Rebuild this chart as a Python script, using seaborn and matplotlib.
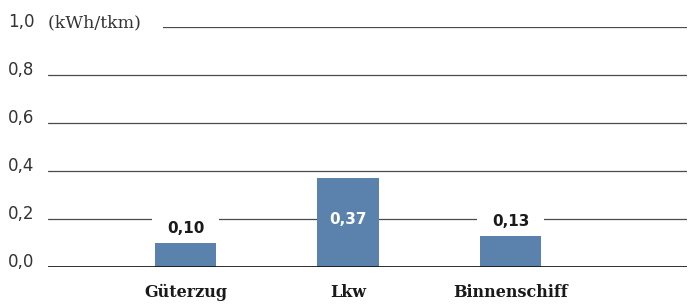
import numpy as np
import pandas as pd
import matplotlib
matplotlib.use("Agg")
import matplotlib.pyplot as plt
import seaborn as sns

# Energy use per tonne-kilometre by mode of freight transport
categories = ["Güterzug", "Lkw", "Binnenschiff"]
values = [0.10, 0.37, 0.13]
y_ticks = [0.0, 0.2, 0.4, 0.6, 0.8, 1.0]
unit_label = "(kWh/tkm)"

df = pd.DataFrame({"mode": categories, "kwh": values})

sns.set_theme(style="white")
plt.rcParams["font.family"] = ["DejaVu Sans"]

bar_color = "#5a82ad"
grid_color = "#4a4a4a"
text_color = "#1a1a1a"

fig = plt.figure(figsize=(6.97, 3.05), dpi=100)
ax = fig.add_axes([48 / 697, 38 / 305, 639 / 697, 240 / 305])

sns.barplot(data=df, x="mode", y="kwh", color=bar_color, width=0.377,
            saturation=1, ax=ax, zorder=2)
for p in ax.patches:
    p.set_zorder(2)
    p.set_edgecolor("none")

ax.set_xlim(-0.846, 3.086)
ax.set_ylim(0, 1.0)
ax.set_yticks(y_ticks)
ax.set_yticklabels([f"{t:.1f}".replace(".", ",") for t in y_ticks])
ax.set_axisbelow(True)
ax.yaxis.grid(True, color=grid_color, linewidth=0.9)
ax.xaxis.grid(False)
for s in ax.spines.values():
    s.set_visible(False)
ax.axhline(0, color="#111111", linewidth=1.2, zorder=2.2)

ax.tick_params(axis="y", length=0, pad=29, labelsize=12, labelcolor="#333333")
for lab in ax.get_yticklabels():
    lab.set_horizontalalignment("left")
    lab.set_verticalalignment("baseline")

ax.tick_params(axis="x", length=0, pad=12, labelsize=11.5, labelcolor=text_color)
for lab in ax.get_xticklabels():
    lab.set_family("DejaVu Serif")
    lab.set_fontweight("bold")
ax.set_xlabel("")
ax.set_ylabel("")

# unit label sitting on the top gridline, blanking the line behind it
ax.annotate(unit_label + "\u2003", xy=(0, 1.0), xycoords=("axes fraction", "data"),
            xytext=(0, 0), textcoords="offset points", ha="left", va="baseline",
            fontsize=12.5, family="DejaVu Serif", color="#333333", zorder=1.5,
            bbox=dict(boxstyle="square,pad=0.3", fc="white", ec="none"))

# value labels
for i, v in enumerate(values):
    txt = f"{v:.2f}".replace(".", ",")
    if v > 0.3:
        ax.annotate(txt, xy=(i, v), xytext=(0, -30), textcoords="offset points",
                    ha="center", va="center", fontsize=11, fontweight="bold",
                    color="white", zorder=3)
    else:
        ax.annotate(txt, xy=(i, v), xytext=(0, 5), textcoords="offset points",
                    ha="center", va="bottom", fontsize=11, fontweight="bold",
                    color=text_color, zorder=1.5,
                    bbox=dict(boxstyle="square,pad=1.0", fc="white", ec="none"))

plt.savefig("out.png", dpi=100)
plt.close()
